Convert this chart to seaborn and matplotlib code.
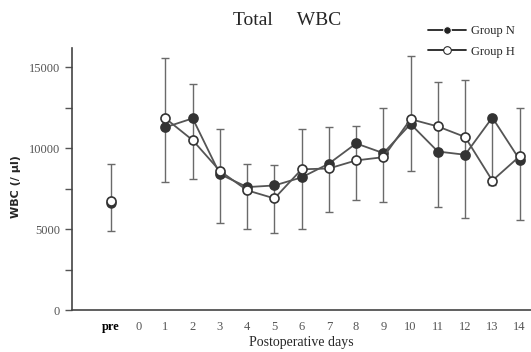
"""Total WBC after surgery, group N vs group H"""

import pandas as pd
import matplotlib
matplotlib.use("Agg")
import matplotlib.pyplot as plt
import seaborn as sns

# values (cells / ul)
days = [1, 2, 3, 4, 5, 6, 7, 8, 9, 10, 11, 12, 13, 14]
group_n = [11300, 11850, 8400, 7600, 7700, 8200, 9050, 10300, 9700, 11500, 9800, 9600, 11900, 9300]
group_h = [11850, 10500, 8600, 7400, 6900, 8700, 8750, 9250, 9450, 11800, 11350, 10700, 8000, 9500]
err_hi = [15600, 14000, 11200, 9000, 8950, 11200, 11300, 11400, 12500, 15700, 14100, 14200, 11900, 12500]
err_lo = [7900, 8100, 5400, 5000, 4750, 5000, 6050, 6800, 6650, 8600, 6400, 5700, 7700, 5550]

pre_n = 6600
pre_h = 6750
pre_hi = 9050
pre_lo = 4900

tick_pos = [-1] + list(range(0, 15))
tick_labels = ["pre"] + [str(d) for d in range(0, 15)]

df = pd.DataFrame({
    "day": days * 2,
    "wbc": group_n + group_h,
    "group": ["Group N"] * len(days) + ["Group H"] * len(days),
})

sns.set_style("white")
plt.rcParams["font.family"] = ["Liberation Serif", "DejaVu Serif"]

fig = plt.figure(figsize=(5.31, 3.52), dpi=100)
ax = fig.add_axes([0.1356, 0.1193, 0.8644, 0.7443])

line_col = "#555555"
err_col = "#6a6a6a"

# error bars (one per day)
all_x = [-1] + days
all_hi = [pre_hi] + err_hi
all_lo = [pre_lo] + err_lo
mid = [(h + l) / 2 for h, l in zip(all_hi, all_lo)]
half = [(h - l) / 2 for h, l in zip(all_hi, all_lo)]
ax.errorbar(all_x, mid, yerr=half, fmt="none", ecolor=err_col,
            elinewidth=1.0, capsize=3.2, capthick=1.0, zorder=1)

sns.lineplot(data=df, x="day", y="wbc", hue="group", style="group",
             hue_order=["Group N", "Group H"],
             palette={"Group N": line_col, "Group H": line_col},
             markers={"Group N": "o", "Group H": "o"},
             dashes=False, linewidth=1.3, markersize=6.5, ax=ax, zorder=3)

# N filled, H hollow
data_lines = [ln for ln in ax.lines if len(ln.get_xdata()) == len(days)]
data_lines[0].set_markerfacecolor("#333333")
data_lines[0].set_markeredgecolor("#333333")
data_lines[1].set_markerfacecolor("white")
data_lines[1].set_markeredgecolor("#333333")
for ln in data_lines[:2]:
    ln.set_markeredgewidth(1.2)

# pre-op points
ax.plot([-1], [pre_n], "o", color="#333333", ms=6.5, zorder=4)
ax.plot([-1], [pre_h], "o", mfc="white", mec="#333333", mew=1.2, ms=6.5, zorder=5)

ax.set_xlim(-2.43, 14.42)
ax.set_ylim(0, 16200)
ax.set_xticks(tick_pos)
ax.set_xticklabels(tick_labels)
ax.set_yticks([0, 5000, 10000, 15000])
ax.set_yticklabels(["0", "5000", "10000", "15000"])
ax.set_yticks([2500, 7500, 12500], minor=True)
ax.tick_params(axis="y", which="both", direction="out", length=5, width=1,
               color="#555555", labelsize=9, labelcolor="#555555", left=True)
ax.tick_params(axis="x", length=0, labelsize=9, labelcolor="#555555", pad=8)
ax.get_xticklabels()[0].set_color("black")
ax.get_xticklabels()[0].set_fontweight("bold")

sns.despine(ax=ax)
for side in ["left", "bottom"]:
    ax.spines[side].set_color("#444444")
    ax.spines[side].set_linewidth(1.2)

ax.set_xlabel("Postoperative days", fontsize=10, labelpad=2)
ax.set_ylabel("")
fig.text(0.03, 0.47, "WBC (/ \u03bcl)", rotation=90, ha="center", va="center",
         fontsize=8, fontweight="bold", family=["DejaVu Sans"])
fig.text(0.54, 0.943, "Total     WBC", ha="center", va="center", fontsize=14)

handles, labels = ax.get_legend_handles_labels()
leg = ax.legend(handles, labels, loc="upper left", bbox_to_anchor=(0.797, 0.942),
                bbox_transform=fig.transFigure, frameon=False, fontsize=9,
                handlelength=3.0, handletextpad=0.4, labelspacing=0.65,
                borderaxespad=0)
for h in leg.legend_handles:
    h.set_color("#222222")
    h.set_markersize(5.5)
leg.legend_handles[0].set_markerfacecolor("#222222")
leg.legend_handles[1].set_markerfacecolor("white")
leg.legend_handles[1].set_markeredgecolor("#222222")

fig.savefig("out.png", dpi=100)
